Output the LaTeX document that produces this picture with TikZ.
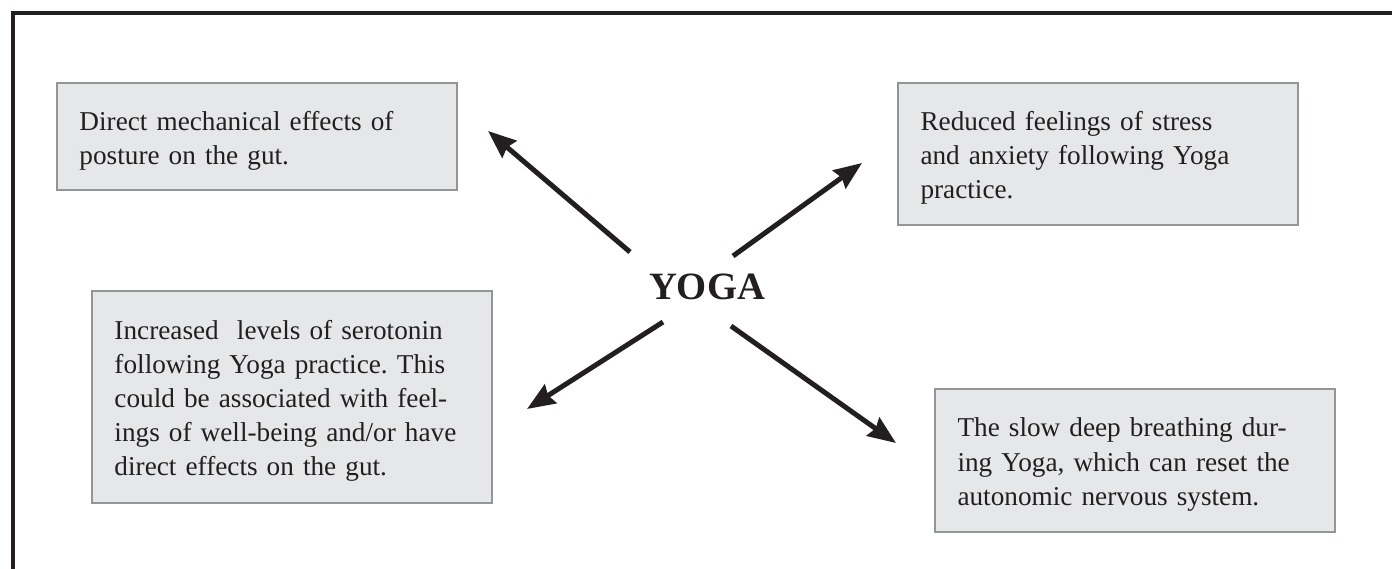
\documentclass[tikz,border=0pt]{standalone}
\usepackage{fontspec}
\setmainfont{Liberation Serif}
\usepackage{tikz}
\usetikzlibrary{arrows.meta, positioning}
\frenchspacing
\definecolor{boxfill}{HTML}{E6E7E8}
\definecolor{boxline}{HTML}{939598}
\definecolor{ink}{HTML}{231F20}
\tikzset{>={Stealth[length=0.56cm, width=0.44cm, inset=0.06cm]}}
\tikzset{effect/.style={draw=boxline, fill=boxfill, line width=0.04cm, anchor=north west,
		text width=7.1cm, inner xsep=0.45cm, inner ysep=0pt, align=left, text=ink,
		font=\fontsize{15.5}{19.4}\selectfont, execute at begin node=\rule{0pt}{0.54cm}},
	push/.style={->, draw=ink, line width=0.1cm}}

\begin{document}
\begin{tikzpicture}[x=0.02cm, y=-0.02cm]
	\clip (0,0) rectangle (1392,568);
	\draw[ink, line width=0.07cm] (13,13) rectangle (1420,600);
	
	\node[text=ink, font=\fontsize{22}{26}\selectfont\bfseries]	(Y)	at	(707,287)	{YOGA};
	
	\node[effect, minimum height=2.14cm]	(E1)	at	(56,82)	{Direct mechanical effects of\\posture on the gut.};
	\node[effect, minimum height=2.84cm]	(E2)	at	(897,82)	{Reduced feelings of stress\\and anxiety following Yoga\\practice.};
	\node[effect, minimum height=4.24cm]	(E3)	at	(91,290)	{Increased~ levels of serotonin\\following Yoga practice. This\\could be associated with feel-\\ings of well-being and/or have\\direct effects on the gut.};
	\node[effect, minimum height=2.86cm]	(E4)	at	(934,388)	{The slow deep breathing dur-\\ing Yoga, which can reset the\\autonomic nervous system.};
	
	\coordinate	(A1)	at	(630,252);	\coordinate	(T1)	at	(488,131);
	\coordinate	(A2)	at	(733,256);	\coordinate	(T2)	at	(862,163);
	\coordinate	(A3)	at	(663,322);	\coordinate	(T3)	at	(527,409);
	\coordinate	(A4)	at	(731,326);	\coordinate	(T4)	at	(896,443);
	\draw[push] (A1) -- (T1);
	\draw[push] (A2) -- (T2);
	\draw[push] (A3) -- (T3);
	\draw[push] (A4) -- (T4);
\end{tikzpicture}
\end{document}
